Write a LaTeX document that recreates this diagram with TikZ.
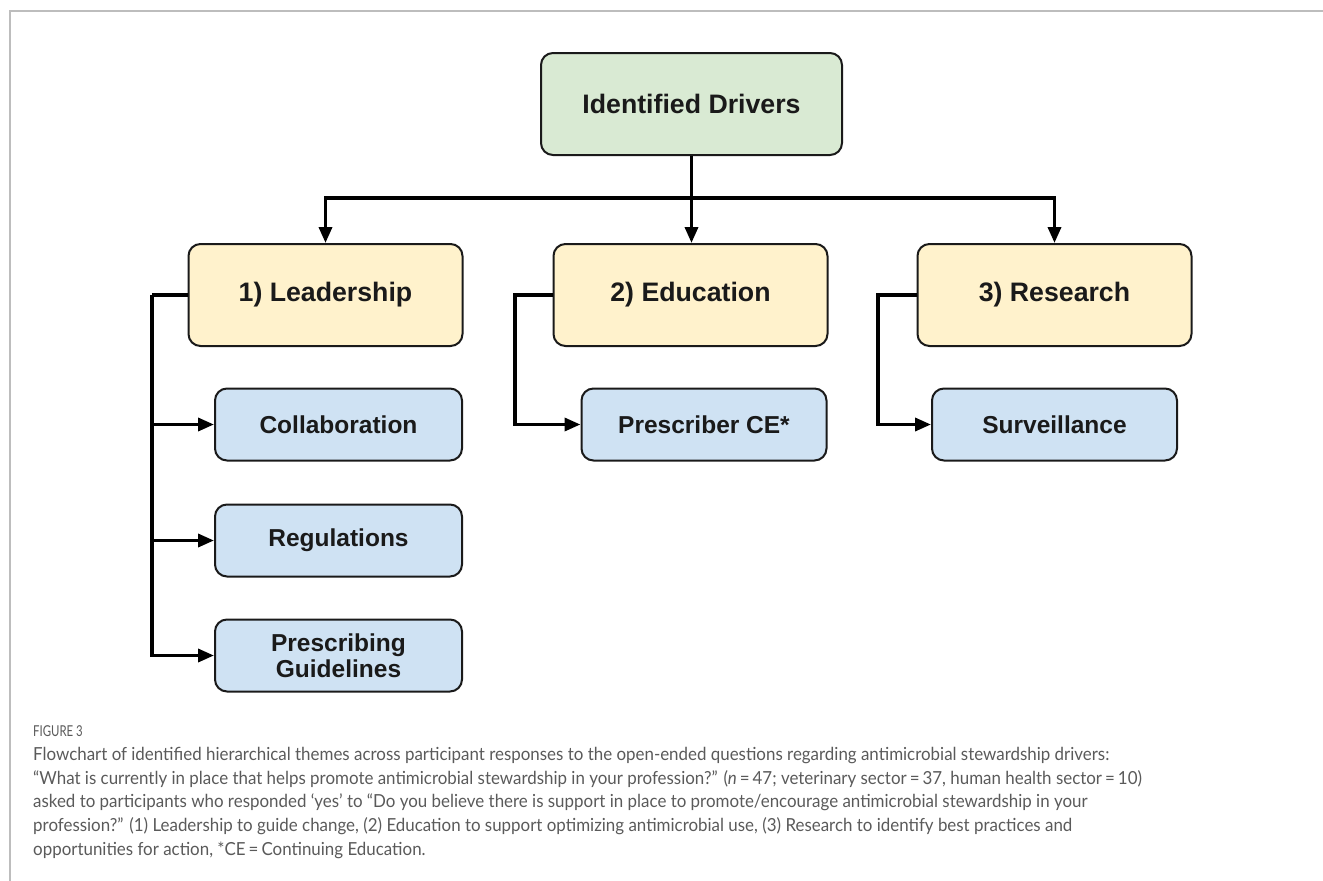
\documentclass[tikz,border=0pt]{standalone}
\usepackage{fontspec}
\setmainfont{Liberation Sans}
\newfontfamily\capfont[FakeStretch=0.94]{Lato}
\newfontfamily\figfont[FakeStretch=0.76]{Lato}
\usetikzlibrary{arrows.meta}

\definecolor{framegray}{HTML}{BDBDBD}
\definecolor{capgray}{HTML}{5A5A5A}
\definecolor{rootfill}{HTML}{D9EAD3}
\definecolor{themefill}{HTML}{FFF2CC}
\definecolor{subfill}{HTML}{CFE2F3}
\definecolor{ink}{HTML}{1A1A1A}

\tikzset{
  box/.style={draw=ink, line width=2pt, rounded corners=12pt, align=center,
    text=ink, inner sep=0pt},
  rootbox/.style={box, fill=rootfill, minimum width=301pt, minimum height=102pt,
    font=\bfseries\fontsize{26.7}{30}\selectfont},
  themebox/.style={box, fill=themefill, minimum width=274pt, minimum height=102pt,
    font=\bfseries\fontsize{26.7}{30}\selectfont},
  subbox/.style={box, fill=subfill, minimum width=247pt, minimum height=72pt,
    font=\bfseries\fontsize{24.5}{28}\selectfont},
  conn/.style={draw=black, line width=3.5pt},
  arr/.style={conn, -{Triangle[length=16pt, width=13pt]}},
}

\begin{document}
\begin{tikzpicture}[x=1pt, y=-1pt]
  \useasboundingbox (0,0) rectangle (1323,881);

  % open frame: top and left rules
  \draw[framegray, line width=2pt] (1323,11) -- (9.5,11) -- (9.5,881);

  % top level
  \node[rootbox] (drivers) at (691.5,104) {Identified Drivers};

  % themes
  \node[themebox] (lead) at (325.5,295) {1) Leadership};
  \node[themebox] (edu)  at (690.5,295) {2) Education};
  \node[themebox] (res)  at (1054.5,295) {3) Research};

  % sub-themes
  \node[subbox] (collab) at (338.5,424.5) {Collaboration};
  \node[subbox] (regs)   at (338.5,540.5) {Regulations};
  \node[subbox] (guide)  at (338.5,655.5) {Prescribing\\[-2pt]Guidelines};
  \node[subbox, minimum width=245pt] (pce)  at (704,424.5) {Prescriber CE*};
  \node[subbox, minimum width=245pt] (surv) at (1054.5,424.5) {Surveillance};

  % root to themes
  \coordinate (split) at (691.5,198);
  \draw[arr] (drivers.south) -- (drivers.south |- edu.north);
  \draw[arr] (split) -| (lead.north);
  \draw[arr] (split) -| (res.north);

  % themes to sub-themes
  \coordinate (lbus) at (152,295);
  \draw[conn] (lead.west) -- (lbus);
  \draw[arr] (lbus) |- (collab.west);
  \draw[arr] (lbus) |- (regs.west);
  \draw[arr] (lbus) |- (guide.west);

  \coordinate (ebus) at (515,295);
  \draw[arr] (edu.west) -- (ebus) |- (pce.west);

  \coordinate (rbus) at (878,295);
  \draw[arr] (res.west) -- (rbus) |- (surv.west);

  % caption
  \node[anchor=west, text=capgray, inner sep=0pt,
        font=\figfont\fontsize{15}{17}\selectfont] (figlabel) at (33,731) {FIGURE 3};
  \node[anchor=north west, text=capgray, inner sep=0pt, align=left,
        font=\capfont\fontsize{18}{23.75}\selectfont] (caption) at (33,747)
  {Flowchart of identified hierarchical themes across participant responses to the open-ended questions regarding antimicrobial stewardship drivers:\\
   “What is currently in place that helps promote antimicrobial stewardship in your profession?” (\textit{n}\,=\,47; veterinary sector\,=\,37, human health sector\,=\,10)\\
   asked to participants who responded ‘yes’ to “Do you believe there is support in place to promote/encourage antimicrobial stewardship in your\\
   profession?” (1) Leadership to guide change, (2) Education to support optimizing antimicrobial use, (3) Research to identify best practices and\\
   opportunities for action, *CE\,=\,Continuing Education.};
\end{tikzpicture}
\end{document}
